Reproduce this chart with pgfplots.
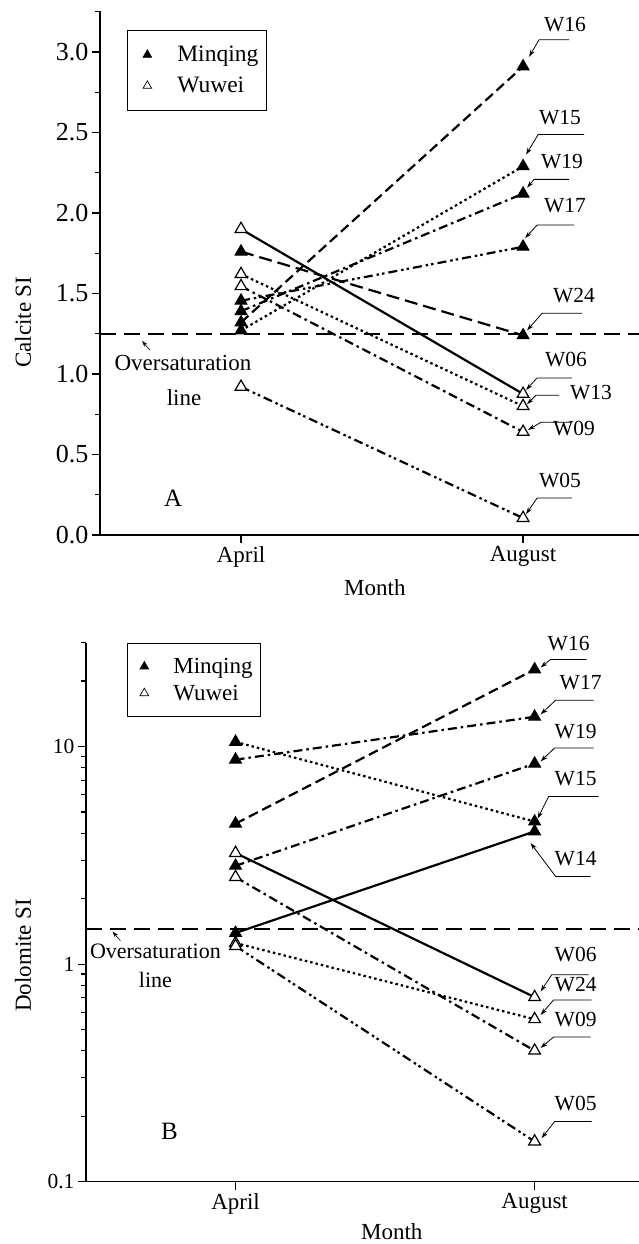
\documentclass[border=0pt]{standalone}
\usepackage{fontspec}
\setmainfont{Liberation Serif}
\usepackage{pgfplots}
\pgfplotsset{compat=1.18}
\usetikzlibrary{arrows.meta}

\newcommand{\lblfont}{\fontsize{21.5}{25}\selectfont}
\newcommand{\txtfont}{\fontsize{23}{27}\selectfont}
\newcommand{\lbl}[6]{%
  \draw[line width=0.8pt, {Stealth[length=7pt,width=4.5pt]}-] ([shift={(#2)}]axis cs:#1) -- ([shift={(#3)}]axis cs:#1) -- ++(#4,0pt);
  \node[font=\lblfont, inner sep=0pt] at ([shift={(#5)}]axis cs:#1) {#6};
}
\tikzset{
 dsh/.style={dash pattern=on 10pt off 5pt},
 ldsh/.style={dash pattern=on 13pt off 6pt},
 dot/.style={dash pattern=on 2.5pt off 3pt},
 dd/.style={dash pattern=on 9pt off 4pt on 2.5pt off 4pt},
 ddd/.style={dash pattern=on 9pt off 4pt on 2.5pt off 3pt on 2.5pt off 4pt},
}
\pgfplotsset{
 mq/.style={black, line width=2.2pt, mark=triangle*, mark size=6.8pt, mark options={solid, fill=black, line width=1pt}, forget plot},
 ww/.style={black, line width=2.2pt, mark=triangle*, mark size=6.8pt, mark options={solid, fill=white, line width=1.2pt}, forget plot},
 common/.style={
   scale only axis, clip=false,
   axis x line*=bottom, axis y line*=left,
   axis line style={line width=1.5pt, -},
   tick align=outside, major tick length=8pt, minor tick length=5pt,
   every tick/.style={line width=1.2pt, black},
   xtick={1,2}, xticklabels={April,August},
   xticklabel style={font=\txtfont},
   label style={font=\txtfont},
   legend cell align=left,
 },
}

\begin{document}
\begin{tikzpicture}
\useasboundingbox (0,0) rectangle (639pt,1244pt);

% ---------- Panel A ----------
\begin{axis}[common,
  at={(100pt,709pt)}, anchor=south west,
  width=539pt, height=524pt,
  xmin=0.5, xmax=2.411, ymin=0, ymax=3.2546,
  ytick={0,0.5,1,1.5,2,2.5,3},
  yticklabels={0.0,0.5,1.0,1.5,2.0,2.5,3.0},
  minor ytick={0.25,0.75,1.25,1.75,2.25,2.75,3.25},
  yticklabel style={font=\fontsize{26}{30}\selectfont},
  xlabel={Month}, ylabel={Calcite SI},
  xlabel style={at={(axis description cs:0.510,-0.101)}, anchor=center},
  ylabel style={at={(axis description cs:-0.143,0.406)}, anchor=center},
  legend image code/.code={\path[draw=none] (0pt,0pt) -- (42pt,0pt); \draw[#1] plot coordinates {(12pt,0pt)};},
  legend style={at={(axis description cs:0.05,0.964)}, anchor=north west,
    draw=black, line width=0.8pt, font=\fontsize{23.5}{27}\selectfont,
    nodes={inner sep=0pt}, column sep=0pt,
    row sep=14pt, inner xsep=8pt, inner ysep=16pt},
]
\addlegendimage{only marks, mark=triangle*, mark size=5pt, black, mark options={solid,fill=black,line width=0.6pt}}
\addlegendentry{Minqing}
\addlegendimage{only marks, mark=triangle*, mark size=5pt, black, mark options={solid,fill=white,line width=0.7pt}}
\addlegendentry{Wuwei}

\addplot[black, line width=1.8pt, dash pattern=on 16pt off 8pt, forget plot] coordinates {(0.5,1.25) (2.411,1.25)};

% Minqing
\addplot[mq, dsh]  coordinates {(1,1.32) (2,2.91)};   % W16
\addplot[mq, dot]  coordinates {(1,1.27) (2,2.29)};   % W15
\addplot[mq, dd]   coordinates {(1,1.39) (2,2.12)};   % W19
\addplot[mq, ddd]  coordinates {(1,1.455) (2,1.79)};  % W17
\addplot[mq, ldsh] coordinates {(1,1.76) (2,1.24)};   % W24
% Wuwei
\addplot[ww]       coordinates {(1,1.90) (2,0.876)};  % W06
\addplot[ww, dot]  coordinates {(1,1.62) (2,0.80)};   % W13
\addplot[ww, dd]   coordinates {(1,1.545) (2,0.64)};  % W09
\addplot[ww, ddd]  coordinates {(1,0.92) (2,0.105)};  % W05

\lbl{2,2.91}{6pt,9.7pt}{16pt,26.7pt}{30pt}{42pt,41.7pt}{W16}
\lbl{2,2.29}{3pt,11.7pt}{15pt,31.7pt}{46pt}{37pt,48.7pt}{W15}
\lbl{2,2.12}{4pt,6pt}{11pt,14.3pt}{35pt}{39pt,32.3pt}{W19}
\lbl{2,1.79}{2pt,8.7pt}{14pt,21.7pt}{37pt}{42pt,41.7pt}{W17}
\lbl{2,1.24}{4pt,5pt}{19pt,22pt}{40pt}{51pt,40pt}{W24}
\lbl{2,0.876}{3pt,4pt}{14pt,16pt}{35pt}{43pt,34pt}{W06}
\lbl{2,0.80}{4pt,2pt}{13pt,11pt}{23pt}{68pt,14pt}{W13}
\lbl{2,0.64}{5pt,2pt}{18pt,9.7pt}{31pt}{51pt,3.7pt}{W09}
\lbl{2,0.105}{3pt,4pt}{14pt,20pt}{35pt}{37pt,38pt}{W05}

\node[font=\txtfont] at (axis cs:0.794,1.068) {Oversaturation};
\node[font=\txtfont] at (axis cs:0.798,0.851) {line};
\draw[line width=0.6pt, -{Stealth[length=6pt,width=4pt]}] (axis cs:0.677,1.149) -- (axis cs:0.649,1.205);
\node[font=\fontsize{25}{30}\selectfont] at (axis cs:0.759,0.23) {A};
\end{axis}

% ---------- Panel B ----------
\begin{axis}[common,
  at={(86pt,62.3pt)}, anchor=south west,
  width=553pt, height=539pt,
  xmin=0.5, xmax=2.349, ymode=log, ymin=0.1, ymax=30,
  ytick={0.1,1,10}, yticklabels={0.1,1,10},
  minor ytick={0.2,0.3,0.4,0.5,0.6,0.7,0.8,0.9,2,3,4,5,6,7,8,9,20,30},
  yticklabel style={font=\fontsize{21.5}{25}\selectfont},
  xlabel={Month}, ylabel={Dolomite SI},
  xlabel style={at={(axis description cs:0.553,-0.0933)}, anchor=center},
  ylabel style={at={(axis description cs:-0.114,0.42)}, anchor=center},
  legend image code/.code={\path[draw=none] (0pt,0pt) -- (38pt,0pt); \draw[#1] plot coordinates {(9pt,0pt)};},
  legend style={at={(axis description cs:0.074,1.0)}, anchor=north west,
    draw=black, line width=0.8pt, font=\fontsize{23}{27}\selectfont,
    nodes={inner sep=0pt}, column sep=0pt,
    row sep=10pt, inner xsep=8pt, inner ysep=15pt},
]
\addlegendimage{only marks, mark=triangle*, mark size=5pt, black, mark options={solid,fill=black,line width=0.6pt}}
\addlegendentry{Minqing}
\addlegendimage{only marks, mark=triangle*, mark size=5pt, black, mark options={solid,fill=white,line width=0.7pt}}
\addlegendentry{Wuwei}

\addplot[black, line width=1.8pt, dash pattern=on 16pt off 8pt, forget plot] coordinates {(0.5,1.45) (2.349,1.45)};

% Minqing
\addplot[mq, dsh]  coordinates {(1,4.42) (2,22.6)};   % W16
\addplot[mq, dd]   coordinates {(1,8.7) (2,13.7)};    % W17
\addplot[mq, dot]  coordinates {(1,10.5) (2,4.52)};   % W15
\addplot[mq, dd]   coordinates {(1,2.83) (2,8.34)};   % W19
\addplot[mq]       coordinates {(1,1.39) (2,4.07)};   % W14
% Wuwei
\addplot[ww]       coordinates {(1,3.24) (2,0.705)};  % W06
\addplot[ww, dd]   coordinates {(1,2.51) (2,0.40)};   % W09
\addplot[ww, dot]  coordinates {(1,1.25) (2,0.558)};  % W24
\addplot[ww, ddd]  coordinates {(1,1.21) (2,0.153)};  % W05

\lbl{2,22.6}{6pt,2pt}{16pt,10pt}{36pt}{34pt,26pt}{W16}
\lbl{2,13.7}{6pt,2.3pt}{21pt,16.6pt}{38pt}{46pt,34.3pt}{W17}
\lbl{2,8.34}{6pt,2.3pt}{20pt,15.7pt}{39pt}{41pt,32.3pt}{W19}
\lbl{2,4.52}{3pt,3pt}{14pt,25pt}{50pt}{41pt,43.4pt}{W15}
\lbl{2,4.07}{-4pt,-11.6pt}{21pt,-45pt}{35pt}{41pt,-27.6pt}{W14}
\lbl{2,0.705}{6pt,5.6pt}{17pt,22.3pt}{37pt}{41pt,42.3pt}{W06}
\lbl{2,0.558}{6pt,4.3pt}{19pt,19.3pt}{38pt}{41pt,34.3pt}{W24}
\lbl{2,0.40}{6pt,2.7pt}{19pt,13.7pt}{37pt}{41pt,31pt}{W09}
\lbl{2,0.153}{7pt,3.4pt}{20pt,20pt}{37pt}{41pt,38.4pt}{W05}

\node[font=\fontsize{22}{26}\selectfont] at (axis cs:0.732,1.143) {Oversaturation};
\node[font=\fontsize{22}{26}\selectfont] at (axis cs:0.732,0.847) {line};
\draw[line width=0.6pt, -{Stealth[length=6pt,width=4pt]}] (axis cs:0.615,1.28) -- (axis cs:0.589,1.41);
\node[font=\fontsize{25}{30}\selectfont] at (axis cs:0.779,0.17) {B};
\end{axis}
\end{tikzpicture}
\end{document}
